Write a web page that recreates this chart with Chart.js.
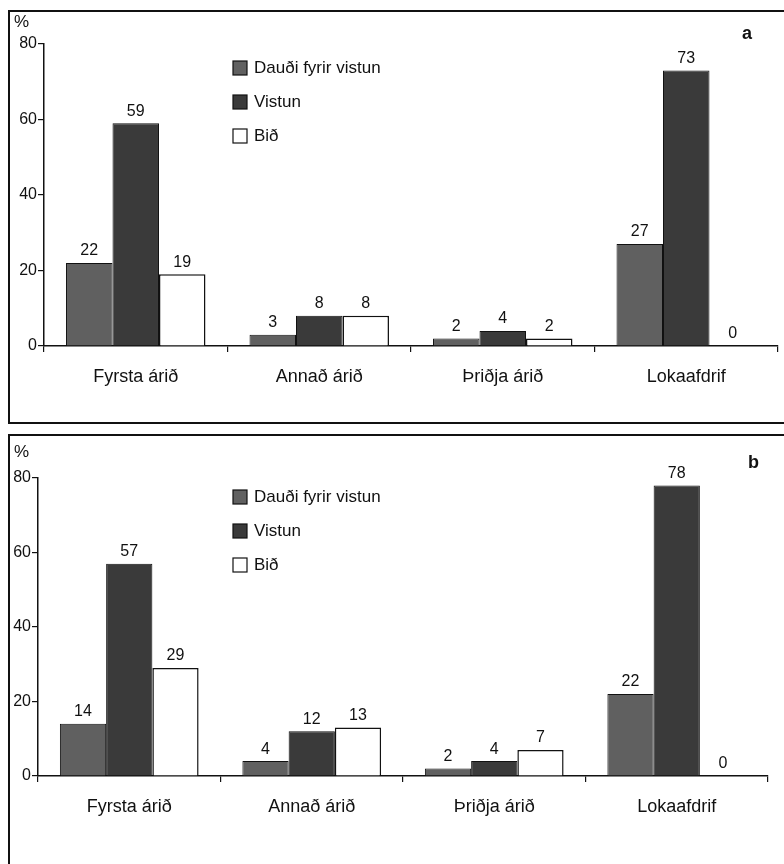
<!DOCTYPE html>
<html>
<head>
<meta charset="utf-8">
<script src="https://cdn.jsdelivr.net/npm/chart.js@4"></script>
<style>
  html, body { margin: 0; padding: 0; background: #fff; overflow: hidden; width: 784px; height: 864px; }
  .panel { position: absolute; left: 8px; width: 776px; border: 2px solid #111; border-right: none; }
  #pa { top: 10px; height: 410px; }
  #pb { top: 434px; height: 430px; border-bottom: none; }
  canvas { display: block; }
</style>
</head>
<body>
<div class="panel" id="pa"><canvas id="chartA" width="776" height="410"></canvas></div>
<div class="panel" id="pb"><canvas id="chartB" width="776" height="430"></canvas></div>
<script>
// categories and series (percent)
const categories = ['Fyrsta árið', 'Annað árið', 'Þriðja árið', 'Lokaafdrif'];
const seriesNames = ['Dauði fyrir vistun', 'Vistun', 'Bið'];
const yTicks = [0, 20, 40, 60, 80];

const deathA = [22, 3, 2, 27];
const placedA = [59, 8, 4, 73];
const waitA = [19, 8, 2, 0];

const deathB = [14, 4, 2, 22];
const placedB = [57, 12, 4, 78];
const waitB = [29, 13, 7, 0];

const FONT = '"Liberation Sans", Arial, sans-serif';
const fills = ['#606060', '#3a3a3a', '#ffffff'];

// value labels above each bar
const valueLabels = {
    id: 'valueLabels',
    afterDatasetsDraw(chart) {
        const ctx = chart.ctx;
        ctx.save();
        ctx.font = '16px ' + FONT;
        ctx.fillStyle = '#111';
        ctx.textAlign = 'center';
        ctx.textBaseline = 'bottom';
        chart.data.datasets.forEach((ds, i) => {
            chart.getDatasetMeta(i).data.forEach((bar, j) => {
                ctx.fillText(String(ds.data[j]), bar.x, bar.y - 4);
            });
        });
        ctx.restore();
    }
};

// legend boxes inside the plot, plus the "%" and panel letter
const panelDecor = {
    id: 'panelDecor',
    afterDraw(chart, args, opts) {
        const ctx = chart.ctx;
        ctx.save();
        ctx.textBaseline = 'middle';
        ctx.fillStyle = '#111';
        ctx.font = '17px ' + FONT;
        ctx.textAlign = 'left';
        ctx.fillText('%', opts.pctX, opts.pctY);
        ctx.font = 'bold 18px ' + FONT;
        ctx.fillText(opts.letter, opts.letterX, opts.letterY);
        chart.data.datasets.forEach((ds, i) => {
            const y = opts.legendY + i * opts.legendGap;
            ctx.fillStyle = ds.backgroundColor;
            ctx.fillRect(opts.legendX, y - 7, 14, 14);
            ctx.strokeStyle = '#111';
            ctx.lineWidth = 1.2;
            ctx.strokeRect(opts.legendX, y - 7, 14, 14);
            ctx.fillStyle = '#111';
            ctx.font = '17px ' + FONT;
            ctx.fillText(ds.label, opts.legendX + 21, y);
        });
        ctx.restore();
    }
};

function makeChart(id, series, pad, yWidth, xHeight, decor) {
    const ctx = document.getElementById(id).getContext('2d');
    return new Chart(ctx, {
        type: 'bar',
        data: {
            labels: categories,
            datasets: series.map((vals, i) => ({
                label: seriesNames[i],
                data: vals,
                backgroundColor: fills[i],
                borderColor: '#111',
                borderWidth: i === 2 ? 1.5 : 1,
                categoryPercentage: 0.76,
                barPercentage: 1.0
            }))
        },
        options: {
            responsive: false,
            animation: false,
            layout: { padding: pad },
            plugins: {
                legend: { display: false },
                tooltip: { enabled: false },
                panelDecor: decor
            },
            scales: {
                x: {
                    offset: true,
                    grid: { display: true, offset: true, drawOnChartArea: false, drawTicks: true, tickLength: 6, color: '#111', lineWidth: 1.2 },
                    border: { display: true, color: '#111', width: 1.5 },
                    ticks: { color: '#111', font: { family: FONT, size: 18 }, padding: 14, maxRotation: 0 },
                    afterFit: s => { s.height = xHeight; }
                },
                y: {
                    min: 0,
                    max: 80,
                    afterBuildTicks: s => { s.ticks = yTicks.map(v => ({ value: v })); },
                    grid: { drawOnChartArea: false, drawTicks: true, tickLength: 6, color: '#111', lineWidth: 1.2 },
                    border: { display: true, color: '#111', width: 1.5 },
                    ticks: { color: '#111', font: { family: FONT, size: 16 }, padding: 1 },
                    afterFit: s => { s.width = yWidth; }
                }
            }
        },
        plugins: [valueLabels, panelDecor]
    });
}

makeChart('chartA', [deathA, placedA, waitA],
    { top: 32, right: 8, left: 0, bottom: 0 }, 34, 76,
    { letter: 'a', letterX: 732, letterY: 22, pctX: 4, pctY: 10, legendX: 223, legendY: 56, legendGap: 34 });

makeChart('chartB', [deathB, placedB, waitB],
    { top: 42, right: 18, left: 0, bottom: 0 }, 28, 90,
    { letter: 'b', letterX: 738, letterY: 27, pctX: 4, pctY: 16, legendX: 223, legendY: 61, legendGap: 34 });
</script>
</body>
</html>
